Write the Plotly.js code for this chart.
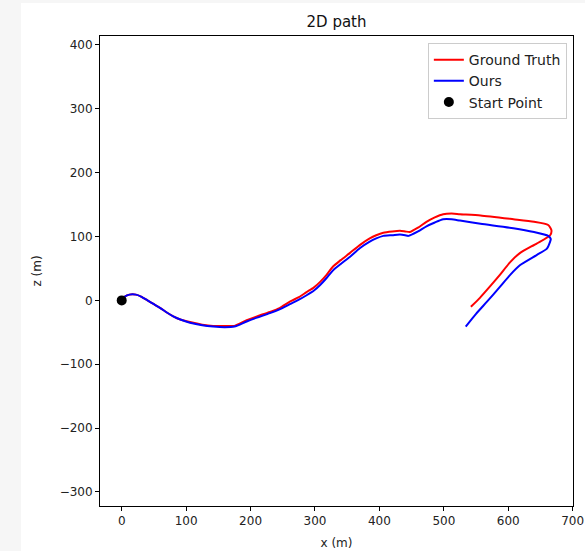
<!DOCTYPE html>
<html>
<head>
<meta charset="utf-8">
<script src="https://cdn.plot.ly/plotly-3.0.1.min.js"></script>
<style>
  html, body { margin: 0; padding: 0; background: #f6f6f6; width: 585px; height: 551px; overflow: hidden; }
  #chart { position: absolute; left: 21px; top: 3px; width: 564px; height: 548px; background: #ffffff; }
</style>
</head>
<body>
<div id="chart"></div>
<script>
// Ground truth path (x, z in metres)
const gtX = [0, 5, 12, 22, 30, 40, 50, 60, 70, 80, 91, 106, 125, 142, 160, 175, 194, 210, 230, 245, 261, 275, 287, 298, 308, 318, 328, 340, 354, 370, 385, 395, 406, 420, 432, 440, 447, 460, 473, 486, 499, 512, 525, 557, 608, 640, 662, 667, 665, 644, 618, 603, 587, 571, 556, 542];
const gtZ = [0, 6, 9, 9, 6, 0, -6, -12, -19, -25, -30, -34, -38, -40, -40, -40, -31, -25, -18, -12, -2, 5, 13, 20, 29, 40, 53, 63, 74, 87, 97, 102, 106, 108, 109, 108, 107, 114, 123, 130, 135, 136, 135, 133, 127, 123, 118, 110, 102, 89, 74, 60, 40, 21, 4, -10];

// Our estimated path
const oursX = [0, 5, 12, 22, 30, 40, 50, 60, 70, 80, 91, 106, 125, 142, 160, 175, 194, 210, 230, 245, 261, 275, 287, 298, 308, 318, 328, 340, 354, 370, 385, 395, 406, 420, 432, 440, 445, 460, 473, 486, 499, 512, 525, 557, 608, 640, 662, 666, 665, 660, 644, 618, 603, 587, 567, 550, 534];
const oursZ = [0, 6, 9, 9, 6, 0, -6, -12, -19, -25, -30, -35, -39, -41, -42, -41, -33, -27, -20, -14, -6, 1, 8, 15, 24, 35, 47, 57, 68, 82, 92, 97, 101, 102, 103, 102, 101, 108, 116, 122, 127, 127, 125, 120, 113, 107, 101, 96, 92, 81, 71, 55, 40, 21, -2, -21, -41];

// Start point
const startX = [0];
const startZ = [0];

const names = ["Ground Truth", "Ours", "Start Point"];
const xTicks = [0, 100, 200, 300, 400, 500, 600, 700];
const yTicks = [-300, -200, -100, 0, 100, 200, 300, 400];

const font = "DejaVu Sans, sans-serif";

const traces = [
  { x: gtX, y: gtZ, mode: "lines", name: names[0], line: { color: "#ff0000", width: 2, shape: "spline", smoothing: 0.6 } },
  { x: oursX, y: oursZ, mode: "lines", name: names[1], line: { color: "#0000ff", width: 2, shape: "spline", smoothing: 0.6 } },
  { x: startX, y: startZ, mode: "markers", name: names[2], marker: { color: "#000000", size: 10 } }
];

const axisCommon = {
  showgrid: false, zeroline: false, showline: true, linecolor: "#000000", linewidth: 1,
  mirror: true, ticks: "outside", ticklen: 4, tickwidth: 1, tickcolor: "#000000",
  tickfont: { family: font, size: 12, color: "#222" }
};

const layout = {
  width: 564, height: 548,
  paper_bgcolor: "#ffffff", plot_bgcolor: "#ffffff",
  margin: { l: 79, r: 12, t: 33, b: 45, pad: 0 },
  showlegend: true,
  title: { text: "2D path", font: { family: font, size: 15, color: "#111" }, x: 0.5, xref: "paper", y: 1 - 19 / 548, yref: "container", yanchor: "middle" },
  xaxis: Object.assign({}, axisCommon, {
    range: [-33.7, 700.5], tickvals: xTicks,
    title: { text: "x (m)", font: { family: font, size: 12, color: "#222" }, standoff: 11 }
  }),
  yaxis: Object.assign({}, axisCommon, {
    range: [-322, 414], tickvals: yTicks,
    ticktext: yTicks.map(v => v < 0 ? "\u2212" + Math.abs(v) : String(v)),
    title: { text: "z (m)", font: { family: font, size: 12, color: "#222" }, standoff: 15 }
  }),
  legend: {
    x: 0.987, y: 0.985, xanchor: "right", yanchor: "top",
    bgcolor: "rgba(255,255,255,0.8)", bordercolor: "#cccccc", borderwidth: 1,
    font: { family: font, size: 14, color: "#222" }, itemwidth: 30, tracegroupgap: 0
  }
};

Plotly.newPlot("chart", traces, layout, { displayModeBar: false, staticPlot: true });
</script>
</body>
</html>
